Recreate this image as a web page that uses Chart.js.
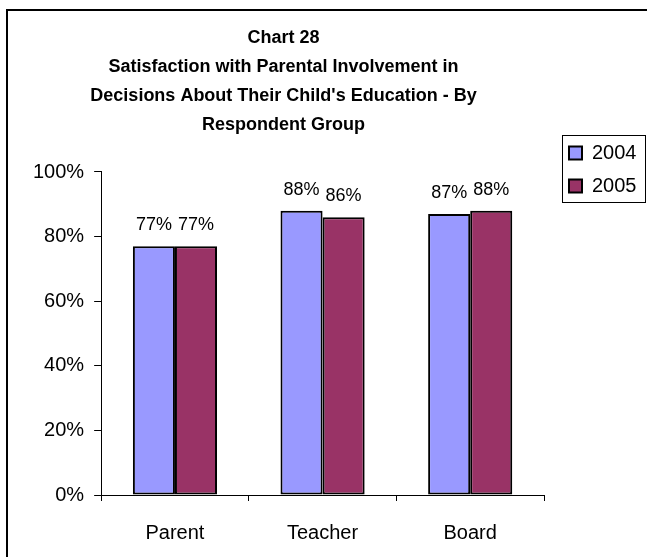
<!DOCTYPE html>
<html>
<head>
<meta charset="utf-8">
<script src="https://cdn.jsdelivr.net/npm/chart.js@4/dist/chart.umd.min.js"></script>
<style>
  html, body { margin: 0; padding: 0; background: #ffffff; }
  #wrap { width: 647px; height: 557px; position: relative; }
</style>
</head>
<body>
<div id="wrap"><canvas id="c" width="647" height="557"></canvas></div>
<script>
// Chart data
const titleLines = [
  "Chart 28",
  "Satisfaction with Parental Involvement in",
  "Decisions About Their Child's Education - By",
  "Respondent Group"
];
const categories = ["Parent", "Teacher", "Board"];
const seriesNames = ["2004", "2005"];
const values2004 = [77, 88, 87];
const values2005 = [77, 86, 88];
const yTicks = [0, 20, 40, 60, 80, 100];

const FONT = "'Liberation Sans', Arial, Helvetica, sans-serif";

// White page background plus the outer frame (top and left edges)
const framePlugin = {
  id: 'frame',
  beforeDraw(chart) {
    const ctx = chart.ctx;
    ctx.save();
    ctx.fillStyle = '#ffffff';
    ctx.fillRect(0, 0, chart.width, chart.height);
    ctx.strokeStyle = '#000000';
    ctx.lineWidth = 2;
    ctx.beginPath();
    ctx.moveTo(7, chart.height);
    ctx.lineTo(7, 10);
    ctx.lineTo(chart.width, 10);
    ctx.stroke();
    ctx.restore();
  }
};

// Place the legend in the upper right and outline it
const legendPlace = {
  id: 'legendPlace',
  afterLayout(chart) {
    const lg = chart.legend;
    lg.left = 556;
    lg.top = 130;
    lg.right = 646;
    lg.bottom = 500;
  },
  afterDraw(chart) {
    const ctx = chart.ctx;
    ctx.save();
    ctx.strokeStyle = '#000000';
    ctx.lineWidth = 1;
    ctx.strokeRect(562.5, 135.5, 83, 67);
    ctx.restore();
  }
};

// Percent labels above each bar
const valueLabels = {
  id: 'valueLabels',
  afterDatasetsDraw(chart) {
    const ctx = chart.ctx;
    ctx.save();
    ctx.font = '18px ' + FONT;
    ctx.fillStyle = '#000000';
    ctx.textAlign = 'center';
    ctx.textBaseline = 'middle';
    chart.data.datasets.forEach((ds, di) => {
      const meta = chart.getDatasetMeta(di);
      meta.data.forEach((bar, i) => {
        ctx.fillText(ds.data[i] + '%', bar.x, bar.y - 21);
      });
    });
    ctx.restore();
  }
};

new Chart(document.getElementById('c'), {
  type: 'bar',
  data: {
    labels: categories,
    datasets: [
      {
        label: seriesNames[0],
        data: values2004,
        backgroundColor: '#9999FF',
        borderColor: '#000000',
        borderWidth: 2,
        borderSkipped: false
      },
      {
        label: seriesNames[1],
        data: values2005,
        backgroundColor: '#993366',
        borderColor: '#000000',
        borderWidth: 2,
        borderSkipped: false
      }
    ]
  },
  options: {
    responsive: false,
    animation: false,
    devicePixelRatio: 1,
    layout: { padding: { left: 23, right: 103, top: 0, bottom: 0 } },
    datasets: {
      bar: { categoryPercentage: 0.57, barPercentage: 1.0 }
    },
    plugins: {
      title: {
        display: true,
        text: titleLines,
        color: '#000000',
        font: { family: FONT, size: 18, weight: 'bold', lineHeight: 1.611 },
        padding: { top: 24, bottom: 32 }
      },
      legend: {
        display: true,
        position: 'chartArea',
        align: 'start',
        labels: {
          color: '#000000',
          font: { family: FONT, size: 20 },
          boxWidth: 13,
          boxHeight: 13,
          padding: 13
        }
      },
      tooltip: { enabled: false }
    },
    scales: {
      x: {
        afterFit(axis) { axis.height = 62; },
        grid: {
          display: true,
          drawOnChartArea: false,
          drawTicks: true,
          tickLength: 6,
          color: '#000000',
          offset: true
        },
        border: { display: true, color: '#000000', width: 1 },
        ticks: {
          color: '#000000',
          font: { family: FONT, size: 20 },
          padding: 20
        }
      },
      y: {
        min: 0,
        max: 100,
        afterBuildTicks(axis) {
          axis.ticks = yTicks.map(v => ({ value: v }));
        },
        grid: {
          display: true,
          drawOnChartArea: false,
          drawTicks: true,
          tickLength: 7,
          color: '#000000'
        },
        border: { display: true, color: '#000000', width: 1 },
        ticks: {
          color: '#000000',
          font: { family: FONT, size: 20 },
          padding: 10,
          callback: v => v + '%'
        }
      }
    }
  },
  plugins: [framePlugin, legendPlace, valueLabels]
});
</script>
</body>
</html>
